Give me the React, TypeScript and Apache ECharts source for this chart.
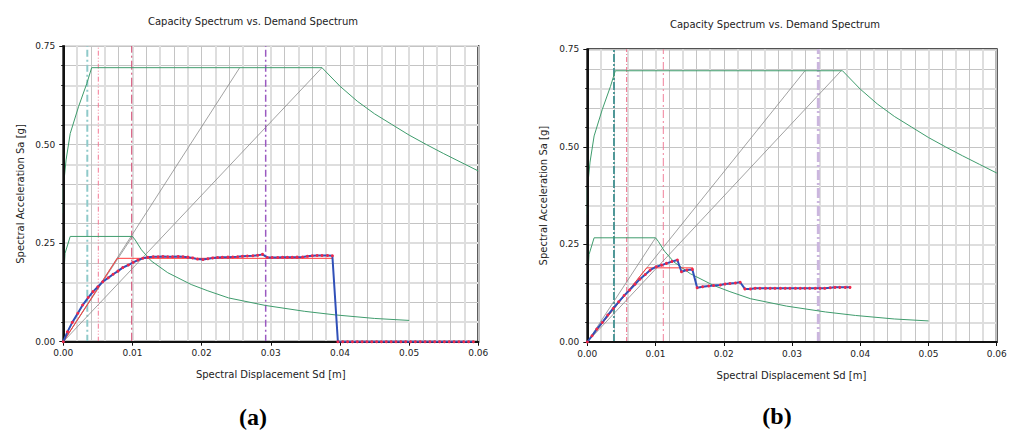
import React, { useEffect, useRef } from 'react';
import * as echarts from 'echarts';

// ---------- data (Sd in m, Sa in g) ----------
const demandBigSd = [0, 0, 0.0004, 0.001, 0.0022, 0.0034, 0.0041, 0.0374, 0.04, 0.0425, 0.045, 0.0475, 0.05, 0.0525, 0.055, 0.0575, 0.06];
const demandBigSa = [0.326, 0.39, 0.461, 0.528, 0.596, 0.655, 0.695, 0.695, 0.648, 0.61, 0.578, 0.551, 0.524, 0.5, 0.477, 0.455, 0.433];

const demandSmallSd = [0, 0.00025, 0.001, 0.01, 0.0104, 0.0113, 0.0127, 0.0151, 0.0185, 0.0209, 0.0239, 0.0292, 0.0349, 0.0393, 0.045, 0.05];
const demandSmallSa = [0.146, 0.224, 0.267, 0.267, 0.258, 0.233, 0.205, 0.175, 0.145, 0.129, 0.111, 0.092, 0.077, 0.068, 0.059, 0.054];

const capASd = [0, 0.0006, 0.0013, 0.0021, 0.0028, 0.0036, 0.0043, 0.005, 0.0057, 0.0065, 0.0072, 0.0079, 0.0086, 0.0094, 0.0101, 0.0108, 0.0115, 0.0122, 0.013, 0.0137, 0.0144, 0.0151, 0.0158, 0.0166, 0.0173, 0.018, 0.0187, 0.0194, 0.0202, 0.0209, 0.0216, 0.0223, 0.023, 0.0238, 0.0245, 0.0252, 0.0259, 0.0266, 0.0274, 0.0281, 0.0288, 0.0295, 0.0302, 0.031, 0.0317, 0.0324, 0.0331, 0.0338, 0.0346, 0.0353, 0.036, 0.0367, 0.0374, 0.0382, 0.0389,
  0.0397, 0.0404, 0.0411, 0.0418, 0.0425, 0.0432, 0.0439, 0.0446, 0.0453, 0.046, 0.0467, 0.0474, 0.0481, 0.0488, 0.0495, 0.0502, 0.0509, 0.0516, 0.0523, 0.053, 0.0537, 0.0544, 0.0551, 0.0558, 0.0565, 0.0572, 0.0579, 0.0586, 0.0593];
const capASa = [0, 0.025, 0.049, 0.072, 0.093, 0.112, 0.127, 0.1395, 0.152, 0.162, 0.171, 0.179, 0.188, 0.1945, 0.201, 0.207, 0.2115, 0.214, 0.2155, 0.2155, 0.216, 0.2155, 0.2155, 0.216, 0.2155, 0.2145, 0.2125, 0.2095, 0.2085, 0.2105, 0.2125, 0.2135, 0.214, 0.2145, 0.215, 0.2155, 0.2165, 0.2175, 0.218, 0.219, 0.2215, 0.2135, 0.2135, 0.2135, 0.214, 0.214, 0.214, 0.2145, 0.215, 0.2165, 0.218, 0.2185, 0.2185, 0.2185, 0.218,
  0, 0, 0, 0, 0, 0, 0, 0, 0, 0, 0, 0, 0, 0, 0, 0, 0, 0, 0, 0, 0, 0, 0, 0, 0, 0, 0, 0, 0];

const capBSd = [0, 0.0007, 0.0014, 0.0022, 0.003, 0.0038, 0.0046, 0.0054, 0.0062, 0.007, 0.0077, 0.0085, 0.0092, 0.0101, 0.0109, 0.0116, 0.0124, 0.0132, 0.0138, 0.0146, 0.0154, 0.0161, 0.0169, 0.0178, 0.0185, 0.0195, 0.0202, 0.0209, 0.0217, 0.0224, 0.0231, 0.0239, 0.0246, 0.0253, 0.0261, 0.0268, 0.0275, 0.0283, 0.029, 0.0297, 0.0305, 0.0312, 0.0319, 0.0326, 0.0334, 0.0341, 0.0348, 0.0356, 0.0363, 0.037, 0.0378, 0.0385];
const capBSa = [0, 0.016, 0.033, 0.05, 0.069, 0.086, 0.103, 0.119, 0.133, 0.148, 0.161, 0.173, 0.184, 0.193, 0.197, 0.2015, 0.206, 0.21, 0.18, 0.1845, 0.186, 0.139, 0.1415, 0.1435, 0.1445, 0.146, 0.1485, 0.15, 0.151, 0.153, 0.136, 0.136, 0.1375, 0.1375, 0.1375, 0.1375, 0.1375, 0.1375, 0.1375, 0.1375, 0.1375, 0.1375, 0.1375, 0.1375, 0.1375, 0.1375, 0.1375, 0.139, 0.14, 0.14, 0.14, 0.14];

const bilinASd = [0, 0.0078, 0.0389];
const bilinASa = [0, 0.2115, 0.2115];
const bilinBSd = [0, 0.0087, 0.0155];
const bilinBSa = [0, 0.19, 0.19];

const radialASd = [0.01, 0.0255, 0.0374];
const radialASa = [0.267, 0.695, 0.695];
const radialBSd = [0.01, 0.0319, 0.0372];
const radialBSa = [0.267, 0.695, 0.695];

const guidesA = [0.00347, 0.00506, 0.00989, 0.02926];
const guidesB = [0.00391, 0.00577, 0.01114, 0.03386];

const chartTitle = 'Capacity Spectrum vs. Demand Spectrum';
const xName = 'Spectral Displacement Sd [m]';
const yName = 'Spectral Acceleration Sa [g]';
const panelLabels = ['(a)', '(b)'];

// ---------- styles ----------
const FONT = '"DejaVu Sans", sans-serif';
const GREEN = '#3f9c6d';
const GRAY = '#8a8a8a';
const BLUE = '#3050b8';
const RED = '#f0284a';

const guideStylesA = [
  { color: '#8fcaca', width: 2, type: [7, 3, 2, 3] },
  { color: '#f47a95', width: 1, type: [5, 2, 1, 2, 1, 2] },
  { color: '#d2456e', width: 1, type: [9, 3, 2, 3] },
  { color: '#9b59c1', width: 1.5, type: [7, 3, 2, 3] },
];
const guideStylesB = [
  { color: '#4f9797', width: 2, type: [8, 2, 2, 2] },
  { color: '#f06a88', width: 1, type: [5, 2, 1, 2] },
  { color: '#f0809a', width: 1, type: [8, 3, 2, 3] },
  { color: '#cbb6de', width: 3, type: [10, 3, 2, 3] },
];

const panels = [
  { left: 63.3, top: 46, width: 415, height: 295.7, cap: [capASd, capASa], bil: [bilinASd, bilinASa], rad: [radialASd, radialASa], guides: guidesA, gStyles: guideStylesA,
    titleX: 253, titleY: 21, xNameX: 270.8, xNameY: 374.5, yNameX: 20, yNameY: 194, labX: 253, labY: 417 },
  { left: 587.3, top: 49.3, width: 409.4, height: 292.7, cap: [capBSd, capBSa], bil: [bilinBSd, bilinBSa], rad: [radialBSd, radialBSa], guides: guidesB, gStyles: guideStylesB,
    titleX: 775, titleY: 24.5, xNameX: 791.5, xNameY: 375, yNameX: 543.5, yNameY: 195.6, labX: 777, labY: 416 },
];

const zip = (xs: number[], ys: number[]) => xs.map((x, k) => [x, ys[k]]);

function buildOption() {
  const grid: any[] = [];
  const xAxis: any[] = [];
  const yAxis: any[] = [];
  const series: any[] = [];
  const graphic: any[] = [];

  panels.forEach((p, i) => {
    grid.push({ left: p.left, top: p.top, width: p.width, height: p.height, show: true, borderColor: '#1a1a1a', borderWidth: 2, backgroundColor: '#fff', containLabel: false });
    const hidden = { axisLine: { show: false }, axisTick: { show: false }, axisLabel: { show: false } };
    xAxis.push({ gridIndex: i, type: 'value', min: 0, max: 0.06, interval: 0.01, z: 5,
      axisLine: { onZero: false, lineStyle: { color: '#111', width: 2 } },
      axisTick: { length: 4, lineStyle: { color: '#111', width: 1 } },
      axisLabel: { formatter: (v: number) => v.toFixed(2), fontFamily: FONT, fontSize: 9, color: '#222', margin: 7 },
      splitLine: { show: false } });
    xAxis.push({ gridIndex: i, type: 'value', min: 0, max: 0.06, interval: 0.002, ...hidden,
      splitLine: { show: true, lineStyle: { color: ['rgba(0,0,0,0)', '#dedede'], width: 2 } } });
    xAxis.push({ gridIndex: i, type: 'value', min: 0, max: 0.06, interval: 0.004, ...hidden,
      splitLine: { show: true, lineStyle: { color: '#c4c4c4', width: 1 } } });

    yAxis.push({ gridIndex: i, type: 'value', min: 0, max: 0.75, interval: 0.25, z: 5,
      axisLine: { onZero: false, lineStyle: { color: '#111', width: 2 } },
      axisTick: { length: 4, lineStyle: { color: '#111', width: 1 } },
      minorTick: { show: true, splitNumber: 5, length: 2, lineStyle: { color: '#111', width: 1 } },
      axisLabel: { formatter: (v: number) => v.toFixed(2), fontFamily: FONT, fontSize: 9, color: '#222', margin: 8 },
      splitLine: { show: false } });
    yAxis.push({ gridIndex: i, type: 'value', min: 0, max: 0.75, interval: 0.05, ...hidden,
      splitLine: { show: true, lineStyle: { color: ['rgba(0,0,0,0)', '#dedede'], width: 2 } } });
    yAxis.push({ gridIndex: i, type: 'value', min: 0, max: 0.75, interval: 0.1, ...hidden,
      splitLine: { show: true, lineStyle: { color: '#c4c4c4', width: 1 } } });

    const xi = i * 3;
    const yi = i * 3;
    const base = { type: 'line', xAxisIndex: xi, yAxisIndex: yi, showSymbol: false, silent: true, animation: false };

    p.guides.forEach((g, k) => {
      series.push({ ...base, z: 2, data: [[g, 0], [g, 0.75]], lineStyle: p.gStyles[k] });
    });
    p.rad[0].forEach((sd, k) => {
      series.push({ ...base, z: 3, data: [[0, 0], [sd, p.rad[1][k]]], lineStyle: { color: GRAY, width: 0.8 } });
    });
    series.push({ ...base, z: 3, data: zip(demandBigSd, demandBigSa), lineStyle: { color: GREEN, width: 1 } });
    series.push({ ...base, z: 3, data: zip(demandSmallSd, demandSmallSa), lineStyle: { color: GREEN, width: 1 } });
    series.push({ ...base, z: 4, data: zip(p.bil[0], p.bil[1]), lineStyle: { color: '#ff3b3b', width: 1 } });
    series.push({ ...base, z: 5, showSymbol: true, symbol: 'circle', symbolSize: 3,
      data: zip(p.cap[0], p.cap[1]), lineStyle: { color: BLUE, width: 2 },
      itemStyle: { color: RED, borderWidth: 0 } });

    graphic.push({ type: 'text', x: p.titleX, y: p.titleY, style: { text: chartTitle, font: `10px ${FONT}`, fill: '#222', textAlign: 'center', textVerticalAlign: 'middle' } });
    graphic.push({ type: 'text', x: p.xNameX, y: p.xNameY, style: { text: xName, font: `10px ${FONT}`, fill: '#222', textAlign: 'center', textVerticalAlign: 'middle' } });
    graphic.push({ type: 'text', x: p.yNameX, y: p.yNameY, rotation: Math.PI / 2, style: { text: yName, font: `10px ${FONT}`, fill: '#222', textAlign: 'center', textVerticalAlign: 'middle' } });
    graphic.push({ type: 'text', x: p.labX, y: p.labY, style: { text: panelLabels[i], font: `bold 24px "Liberation Serif", serif`, fill: '#000', textAlign: 'center', textVerticalAlign: 'middle' } });
  });

  return { animation: false, backgroundColor: '#fff', grid, xAxis, yAxis, series, graphic };
}

export default function App() {
  const ref = useRef<HTMLDivElement>(null);
  useEffect(() => {
    if (!ref.current) return;
    const chart = echarts.init(ref.current, null, { renderer: 'svg', width: 1016, height: 430 });
    chart.setOption(buildOption() as any);
    return () => chart.dispose();
  }, []);
  return <div ref={ref} style={{ position: 'fixed', left: 0, top: 0, width: 1016, height: 430, background: '#fff' }} />;
}
